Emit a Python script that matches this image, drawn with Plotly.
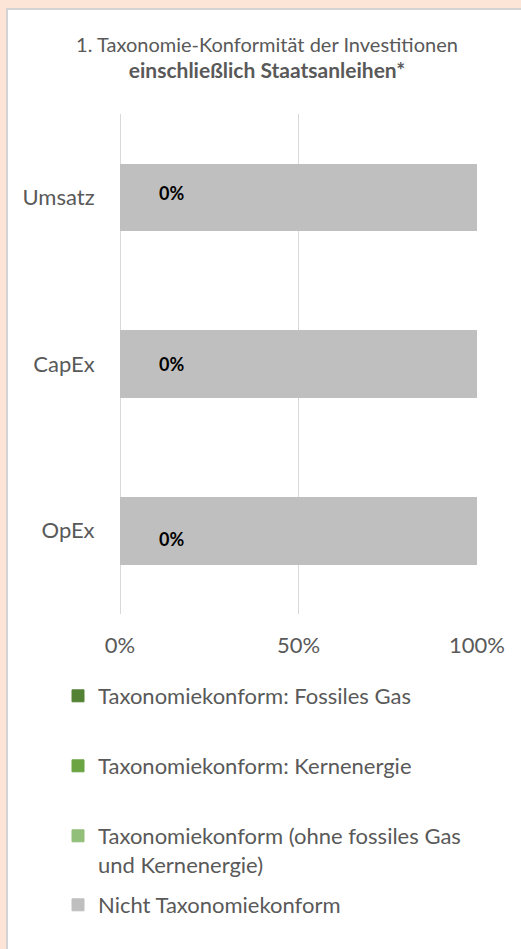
import plotly.graph_objects as go

# ---- data ----
categories = ["Umsatz", "CapEx", "OpEx"]
series_names = [
    "Taxonomiekonform: Fossiles Gas",
    "Taxonomiekonform: Kernenergie",
    "Taxonomiekonform (ohne fossiles Gas<br>und Kernenergie)",
    "Nicht Taxonomiekonform",
]
fossil_gas = [0, 0, 0]
nuclear = [0, 0, 0]
other_aligned = [0, 0, 0]
not_aligned = [100, 100, 100]
x_tickvals = [0, 50, 100]
x_ticktext = ["0%", "50%", "100%"]

colors = ["#548235", "#6AA443", "#92BF79", "#BFBFBF"]
series_values = [fossil_gas, nuclear, other_aligned, not_aligned]
legend_ids = ["legend", "legend2", "legend3", "legend4"]

W, H = 521, 949
ML, MR, MT, MB = 120, 44, 114, 335
PW, PH = W - ML - MR, H - MT - MB

def px_x(x):
    return (x - ML) / PW

def px_y(y):
    return (H - MB - y) / PH

FONT = "Lato"
TXT = "#595959"

fig = go.Figure()
for name, vals, col, lg in zip(series_names, series_values, colors, legend_ids):
    fig.add_trace(go.Bar(
        y=categories, x=vals, orientation="h", name=name,
        marker=dict(color=col, line=dict(color=col, width=1)),
        legend=lg, hoverinfo="skip",
    ))

# labels with the aligned share
aligned = [a + b + c for a, b, c in zip(fossil_gas, nuclear, other_aligned)]
label_shift = [4, 0, -8]
for cat, v, sh in zip(categories, aligned, label_shift):
    fig.add_annotation(x=14.5, y=cat, text=f"<b>{v:.0f}%</b>", showarrow=False,
                       yshift=sh, font=dict(family=FONT, size=18, color="#000000"))

# panel background
fig.add_shape(type="rect", xref="paper", yref="paper",
              x0=px_x(7), x1=px_x(W + 20), y0=px_y(9), y1=px_y(H + 20),
              fillcolor="#FFFFFF", line=dict(color="#D4D4D4", width=2), layer="below")

LX = 58
leg_common = dict(font=dict(family=FONT, size=22, color=TXT), bgcolor="rgba(0,0,0,0)",
                  xref="container", yref="container", xanchor="left", traceorder="normal")
fig.update_layout(
    width=W, height=H,
    margin=dict(l=ML, r=MR, t=MT, b=MB, autoexpand=False),
    paper_bgcolor="#FCE4D6", plot_bgcolor="rgba(0,0,0,0)",
    barmode="stack", bargap=0.6,
    title=dict(text="1. Taxonomie-Konformität der Investitionen<br><span style='font-size:21px'><b>einschließlich Staatsanleihen*</b></span>",
               x=267 / W, xanchor="center", xref="container",
               y=1 - 52 / H, yanchor="middle", yref="container",
               font=dict(family=FONT, size=20, color=TXT)),
    xaxis=dict(range=[0, 100], tickvals=x_tickvals, ticktext=x_ticktext,
               showgrid=True, gridcolor="#D9D9D9", gridwidth=1,
               zeroline=True, zerolinecolor="#D9D9D9", zerolinewidth=1,
               showline=False, ticks="outside", ticklen=12, tickcolor="rgba(0,0,0,0)",
               tickfont=dict(family=FONT, size=22, color=TXT), fixedrange=True),
    yaxis=dict(categoryorder="array", categoryarray=categories, autorange="reversed",
               showgrid=False, zeroline=False, showline=False,
               ticks="outside", ticklen=20, tickcolor="rgba(0,0,0,0)",
               tickfont=dict(family=FONT, size=22, color=TXT), fixedrange=True),
    legend=dict(**leg_common, x=LX / W, y=(H - 696) / H, yanchor="middle"),
    legend2=dict(**leg_common, x=LX / W, y=(H - 766) / H, yanchor="middle"),
    legend3=dict(**leg_common, x=LX / W, y=(H - 815) / H, yanchor="top", valign="top"),
    legend4=dict(**leg_common, x=LX / W, y=(H - 905) / H, yanchor="middle"),
    showlegend=True,
)

fig.write_html("out.html", config={"displayModeBar": False},
               post_script="document.body.style.margin='0';document.body.style.overflow='hidden';")
